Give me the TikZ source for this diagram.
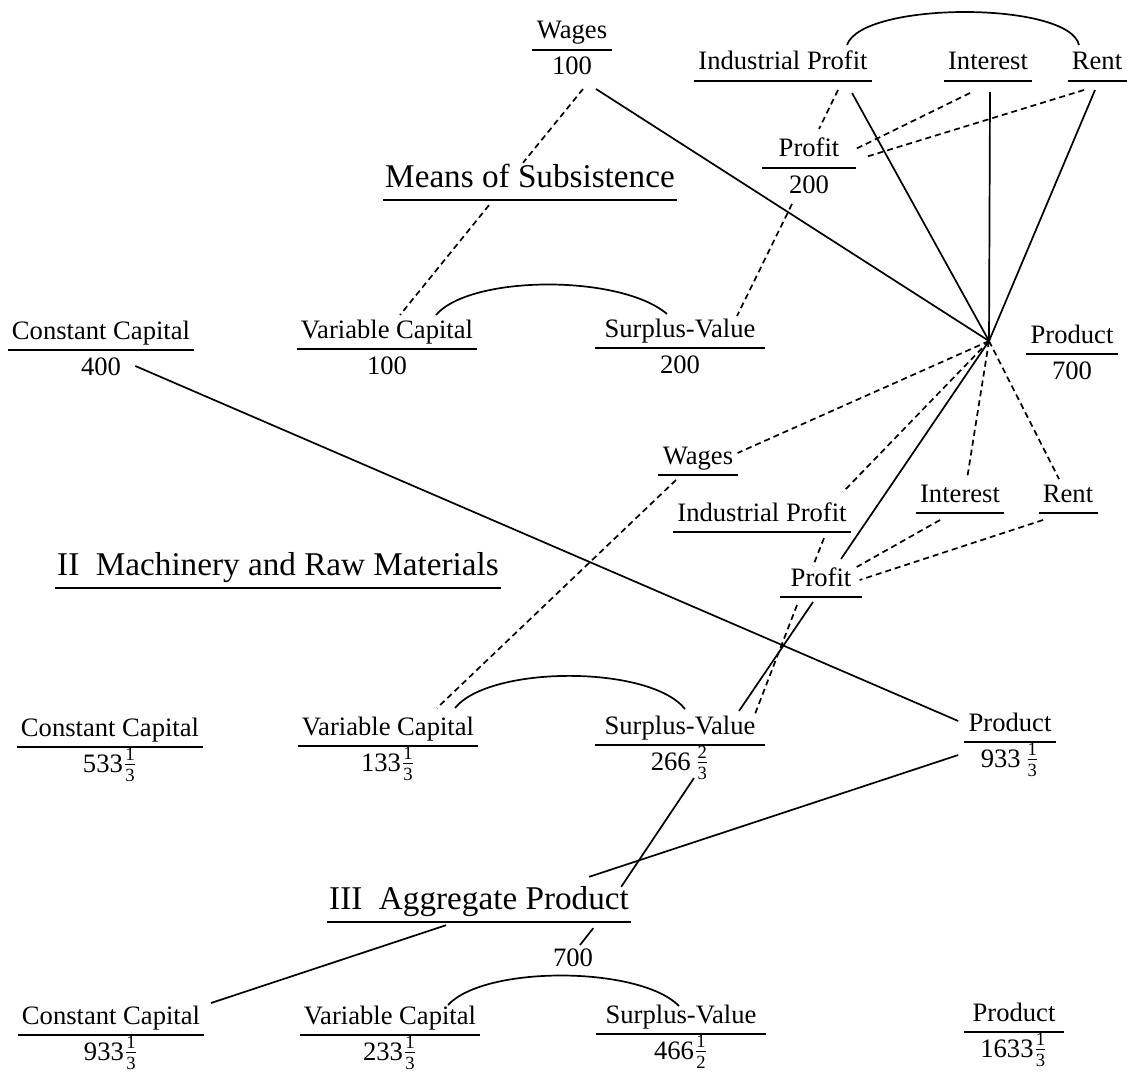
\documentclass[tikz,border=0pt]{standalone}
\usepackage{amsmath}
\usepackage{fontspec}
\setmainfont{Liberation Serif}
\usepackage{tikz}
\usetikzlibrary{positioning}
\usetikzlibrary{calc}

\newcommand{\frc}[2]{$\frac{\text{#1}}{\text{#2}}$}

\tikzset{
  lbl/.style={font=\fontsize{13.3}{15}\selectfont, inner xsep=2pt, inner ysep=2pt, text height=9.3pt, text depth=3.3pt},
  head/.style={font=\fontsize{16.6}{19}\selectfont, inner xsep=1pt, inner ysep=2pt, text height=11.6pt, text depth=4.2pt},
  uline/.style={line width=0.9pt},
  link/.style={line width=0.85pt},
  dlink/.style={line width=0.85pt, dash pattern=on 3pt off 2pt}
}

\begin{document}
\begin{tikzpicture}[x=0.5pt,y=-0.5pt]
		\useasboundingbox (0,0) rectangle (1127,1075);
		\coordinate (hub) at (989,341);

		\node[lbl] (wagesA) at (572,33) {Wages};
		\node[lbl, below=1pt of wagesA] (wagesAn) {100};
		\node[lbl] (indA) at (783,64) {Industrial Profit};
		\node[lbl] (intA) at (988,64) {Interest};
		\node[lbl] (rentA) at (1097,64) {Rent};
		\node[lbl, inner xsep=8pt] (profA) at (809,151) {Profit};
		\node[lbl, below=1pt of profA] (profAn) {200};
		\node[head] (meansA) at (530,180) {Means of Subsistence};
		\node[lbl] (ccA) at (101,333) {Constant Capital};
		\node[lbl, below=1pt of ccA] (ccAn) {400};
		\node[lbl] (vcA) at (387,332) {Variable Capital};
		\node[lbl, below=1pt of vcA] (vcAn) {100};
		\node[lbl, inner xsep=4.5pt] (svA) at (680,331) {Surplus-Value};
		\node[lbl, below=1pt of svA] (svAn) {200};
		\node[lbl] (prodA) at (1072,337) {Product};
		\node[lbl, below=1pt of prodA] (prodAn) {700};

		\node[lbl] (wagesB) at (698,458) {Wages};
		\node[lbl] (indB) at (762,515) {Industrial Profit};
		\node[lbl] (intB) at (960,496) {Interest};
		\node[lbl] (rentB) at (1068,496) {Rent};
		\node[lbl, inner xsep=5pt] (profB) at (821,580) {Profit};
		\node[head] (headB) at (278,568) {II\ \ Machinery and Raw Materials};
		\node[lbl] (ccB) at (110,730) {Constant Capital};
		\node[lbl, below=1pt of ccB] (ccBn) {533\frc13};
		\node[lbl] (vcB) at (388,729) {Variable Capital};
		\node[lbl, below=1pt of vcB] (vcBn) {133\frc13};
		\node[lbl, inner xsep=4.5pt] (svB) at (680,728) {Surplus-Value};
		\node[lbl, below=1pt of svB] (svBn) {266\,\frc23};
		\node[lbl] (prodB) at (1010,725) {Product};
		\node[lbl, below=1pt of prodB] (prodBn) {933\,\frc13};

		\node[head] (headC) at (479,902) {III\ \ Aggregate Product};
		\node[lbl] (aggn) at (573,960) {700};
		\node[lbl] (ccC) at (111,1018) {Constant Capital};
		\node[lbl, below=1pt of ccC] (ccCn) {933\frc13};
		\node[lbl] (vcC) at (390,1018) {Variable Capital};
		\node[lbl, below=1pt of vcC] (vcCn) {233\frc13};
		\node[lbl, inner xsep=4.5pt] (svC) at (681,1017) {Surplus-Value};
		\node[lbl, below=1pt of svC] (svCn) {466\frc12};
		\node[lbl, inner xsep=4pt] (prodC) at (1014,1015) {Product};
		\node[lbl, below=1pt of prodC] (prodCn) {1633\frc13};

		\foreach \n in {wagesA,indA,intA,rentA,profA,meansA,ccA,vcA,svA,prodA,wagesB,indB,intB,rentB,profB,headB,ccB,vcB,svB,prodB,headC,ccC,vcC,svC,prodC}
			\draw[uline] (\n.south west) -- (\n.south east);

		\draw[dlink] ($(wagesAn.south)+(11,3)$) -- ($(meansA.north)+(-7,3)$);
		\draw[dlink] ($(meansA.south)+(-41,5)$) -- ($(vcA.north)+(13,0)$);
		\draw[link] ($(wagesAn.south)+(24,3)$) -- (hub);
		\foreach \n/\dx/\dy in {indA/69/12, intA/2/11, rentA/-2/9}
			\draw[link] ($(\n.south)+(\dx,\dy)$) -- (hub);
		\draw[link] ($(indA.north)+(64,-2)$) .. controls +(15,-44) and +(-10,-44) .. ($(rentA.north)+(-18,-2)$);
		\draw[dlink] ($(indA.south)+(55,9)$) -- ($(profA.north)+(10,-5)$);
		\draw[dlink] ($(intA.south)+(-18,12)$) -- ($(profA.east)+(0,-2)$);
		\draw[dlink] ($(rentA.south)+(-13,9)$) -- ($(profA.east)+(10,6)$);
		\draw[dlink] ($(profAn.south)+(-17,0)$) -- ($(svA.north)+(57,2)$);
		\draw[link] ($(vcA.north)+(49,0)$) .. controls +(34,-40) and +(-47,-40) .. ($(svA.north)+(-13,0)$);
		\draw[link] ($(ccAn.east)+(10,-3)$) -- ($(prodB.west)+(-6,-4)$);

		\draw[dlink] (hub) -- ($(wagesB.east)+(0,-5)$);
		\draw[dlink] (hub) -- ($(indB.north east)+(-8,-6)$);
		\draw[link] (hub) -- ($(profB.north)+(20,-4)$);
		\draw[link] ($(profB.south)+(-8,5)$) -- ($(svB.north)+(59,0)$);
		\draw[dlink] ($(profB.south)+(-24,8)$) -- ($(svB.north)+(75,3)$);
		\draw[dlink] ($(indB.south)+(62,6)$) -- ($(profB.north)+(-8,3)$);
		\draw[dlink] (hub) -- ($(intB.north)+(7,0)$);
		\draw[dlink] (hub) -- ($(rentB.north)+(-9,0)$);
		\draw[dlink] ($(intB.south)+(-20,7)$) -- ($(profB.east)+(-5,-13)$);
		\draw[dlink] ($(rentB.south)+(-25,7)$) -- ($(profB.east)+(-2,0)$);
		\draw[dlink] ($(wagesB.south)+(-22,5)$) -- ($(vcB.north)+(49,-4)$);
		\draw[link] ($(vcB.north)+(67,-4)$) .. controls +(35,-43) and +(-35,-44) .. ($(svB.north)+(5,-2)$);

		\draw[link] ($(prodB.south west)+(-6,13)$) -- ($(headC.north east)+(-42,-5)$);
		\draw[link] ($(svBn.south)+(14,-3)$) -- ($(headC.north east)+(-10,5)$);
		\draw[link] ($(headC.south)+(-33,3)$) -- ($(ccC.north)+(100,2)$);
		\draw[link] ($(headC.south east)+(-38,6)$) -- ($(aggn.north)+(7,2)$);
		\draw[link] ($(vcC.north)+(58,4)$) .. controls +(37,-40) and +(-39,-40) .. ($(svC.north)+(-2,6)$);
\end{tikzpicture}
\end{document}
